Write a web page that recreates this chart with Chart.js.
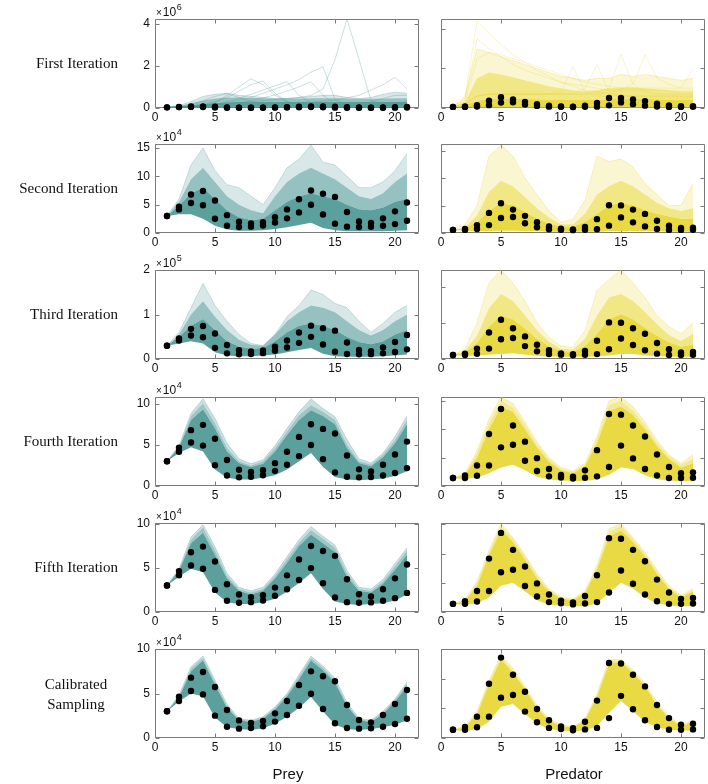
<!DOCTYPE html>
<html>
<head>
<meta charset="utf-8">
<script src="https://cdn.jsdelivr.net/npm/chart.js@4.4.1/dist/chart.umd.min.js"></script>
<style>
body { margin: 0; background: #fff; }
#fig { position: relative; width: 708px; height: 784px; overflow: hidden; background: #fff; }
#fig canvas { position: absolute; }
.rowlab { position: absolute; left: 0; width: 118px; text-align: right; font: 15px "Liberation Serif", "DejaVu Serif", serif; color: #111; line-height: 20px; }
.xlab { position: absolute; top: 765px; font: 15px "Liberation Sans", Arial, sans-serif; color: #111; transform: translateX(-50%); }
</style>
</head>
<body>
<div id="fig"></div>
<script>
// ---- data ----
var rowNames = ["First Iteration", "Second Iteration", "Third Iteration", "Fourth Iteration", "Fifth Iteration", "Calibrated<br>Sampling"];
var days = [1,2,3,4,5,6,7,8,9,10,11,12,13,14,15,16,17,18,19,20,21];
var xTicks = [0,5,10,15,20];

// observed points (prey in 1e4, predator in 1e3)
var preyObsHigh = [3.0,4.64,6.78,7.42,5.73,3.15,1.98,1.69,1.91,2.77,4.16,5.96,7.49,6.93,6.37,3.71,2.02,1.76,2.58,3.82,5.39];
var preyObsLow  = [3.0,4.16,5.28,4.90,2.51,1.27,1.05,1.12,1.31,1.84,2.58,3.63,4.98,3.26,1.65,1.12,1.05,1.09,1.27,1.57,2.17];
var predObsHigh = [0.56,0.74,1.44,3.66,5.42,4.26,3.12,1.96,1.20,0.78,0.66,1.10,2.52,5.06,5.02,4.26,3.48,2.22,1.34,0.90,0.96];
var predObsLow  = [0.56,0.56,0.72,1.44,2.72,2.90,1.78,1.06,0.68,0.60,0.52,0.58,0.68,1.34,2.84,1.94,1.20,0.74,0.56,0.56,0.58];

// axis ranges per row
var preyYMax = [422, 15.7, 20, 10.8, 10.1, 10];
var preyYTicks = [[0,200,400],[0,5,10,15],[0,10,20],[0,5,10],[0,5,10],[0,5,10]];
var preyExp = [6,4,5,4,4,4];
var predYMax = [45, 16.2, 12.3, 6.26, 6.1, 6.0];
var predYTicks = [[0,20,40],[0,5,10,15],[0,5,10],[0,2,4,6],[0,2,4,6],[0,2,4,6]];

// simulated trajectory envelopes, prey (1e4)
var preyLow = [
  [3,3,3,3,2,1.5,1,1,1,1,1,1,1,1,1,0.8,0.8,0.8,0.8,0.8,0.8],
  [3,3.3,3.3,2.5,1.3,0.6,0.4,0.4,0.5,0.7,1.0,1.4,1.8,0.9,0.5,0.3,0.3,0.3,0.3,0.4,0.5],
  [3,3.5,4,3.5,1.5,0.8,0.6,0.6,0.8,1.0,1.5,2.0,2.5,1.2,0.6,0.5,0.5,0.5,0.6,0.8,1.0],
  [3,4.0,4.7,4.2,2.0,1.0,0.8,0.8,1.0,1.3,2.0,3.0,4.0,2.3,1.1,0.8,0.7,0.8,0.9,1.2,1.8],
  [3,4.0,4.9,4.5,2.2,1.1,0.9,0.9,1.1,1.5,2.3,3.3,4.4,2.6,1.2,0.9,0.8,0.9,1.0,1.3,2.0],
  [3,4.1,5.0,4.7,2.3,1.2,1.0,0.9,1.1,1.6,2.4,3.4,4.6,3.0,1.5,1.0,0.9,1.0,1.2,1.5,2.0]
];
var preyCore = [
  [3,8,14,20,24,27,28,28,28,28,28,28,28,28,28,28,28,28,28,28,28],
  [3,4.8,7,8,6,4,2.8,2.3,2.5,4,5.5,6.5,7,6.5,6,5,4.2,4,4.5,5.5,6],
  [3,5,7.5,9,6.5,4,2.8,2.3,2.5,4,6,7.5,8,7.5,6.5,5,3.8,3.3,4,5.5,6.5],
  [3,4.7,8.0,9.3,7.0,4.2,2.8,2.3,2.7,4.2,6.2,8.0,9.2,8.5,7.5,4.6,2.8,2.4,3.5,5.2,7.5],
  [3,4.7,7.8,9.0,6.5,3.8,2.4,2.0,2.4,3.8,5.6,7.5,8.8,7.8,6.8,4.0,2.4,2.2,3.2,4.8,6.5],
  [3,4.6,7.5,8.7,6.0,3.4,2.0,1.8,2.2,3.2,4.7,6.6,8.7,7.6,6.2,3.6,2.0,1.8,2.7,4.1,5.8]
];
var preyMid = [
  [3,10,22,36,45,50,50,48,46,45,45,45,46,46,46,45,44,44,45,46,46],
  [3,5.5,9.5,11.5,9,6.5,5,4,3.5,6.5,9,10.5,11.5,10.5,9.5,8,6.5,6,7,9,10.5],
  [3,5.5,10,13,9.5,6.5,4.3,3.2,3,5.5,8.5,10.5,12,11.5,10.5,8.5,6.5,5.3,6.5,8.5,10],
  [3,4.8,8.5,10.0,7.6,4.6,3.0,2.5,3.0,4.6,6.6,8.6,9.8,9.0,8.0,5.0,3.0,2.6,3.8,5.6,8.0],
  [3,4.8,8.2,9.6,7.0,4.1,2.6,2.2,2.6,4.1,6.0,7.9,9.3,8.3,7.3,4.4,2.6,2.4,3.5,5.2,7.0],
  [3,4.7,7.8,9.0,6.3,3.6,2.1,1.9,2.3,3.4,4.9,6.9,9.0,7.9,6.5,3.8,2.1,1.9,2.9,4.3,6.1]
];
var preyTop = [
  [3,12,30,55,65,70,60,55,50,45,45,50,55,60,60,50,45,50,65,75,70],
  [3,6,12,15,11,8.5,8,6.5,5,8,11.5,13,15.5,12.5,12,10,8,8,9,11,14],
  [3,6,11.5,17,12,8.5,5.5,3.5,3,5.5,9.5,12,15.5,14.5,12.5,11.5,8.5,6,8,10.5,12],
  [3,4.9,8.8,10.6,8.2,5.2,3.3,2.7,3.2,4.9,7.0,9.0,10.6,9.4,8.4,5.6,3.3,2.8,4.0,6.0,8.5],
  [3,4.9,8.5,9.9,7.4,4.4,2.8,2.4,2.8,4.3,6.3,8.2,9.7,8.6,7.6,4.7,2.8,2.6,3.7,5.5,7.3],
  [3,4.8,8.0,9.2,6.5,3.8,2.2,2.0,2.4,3.5,5.0,7.1,9.2,8.1,6.7,4.0,2.2,2.0,3.0,4.4,6.3]
];

// simulated trajectory envelopes, predator (1e3)
var predLow = [
  [0.56,0.4,0.3,0.3,0.3,0.3,0.3,0.3,0.3,0.3,0.3,0.3,0.3,0.3,0.3,0.3,0.3,0.3,0.3,0.3,0.3],
  [0.56,0.4,0.35,0.35,0.4,0.4,0.35,0.3,0.25,0.25,0.25,0.25,0.25,0.3,0.35,0.35,0.3,0.3,0.25,0.25,0.25],
  [0.56,0.45,0.5,0.6,0.7,0.8,0.6,0.45,0.35,0.3,0.3,0.3,0.35,0.5,0.7,0.7,0.5,0.4,0.3,0.3,0.3],
  [0.56,0.5,0.6,0.9,1.3,1.5,1.1,0.65,0.45,0.38,0.35,0.36,0.45,0.8,1.3,1.2,0.75,0.48,0.38,0.34,0.33],
  [0.56,0.5,0.6,1.0,1.8,2.0,1.4,0.8,0.5,0.42,0.4,0.4,0.6,1.3,2.0,1.6,1.0,0.6,0.45,0.4,0.4],
  [0.56,0.45,0.6,1.1,2.1,2.3,1.6,0.97,0.6,0.5,0.45,0.5,0.8,1.7,2.5,1.8,1.1,0.7,0.55,0.5,0.5]
];
var predCore = [
  [0.56,1.5,3.5,4.5,4.8,4.8,4.6,4.4,4.2,4.0,4.0,4.0,4.2,4.4,4.6,4.6,4.6,4.4,4.2,4.0,4.0],
  [0.56,0.9,2.0,4.0,5.5,5.0,3.8,2.6,1.7,1.2,1.2,2.0,3.5,5.0,5.5,5.0,4.2,3.5,3.0,2.6,2.6],
  [0.56,0.9,2.2,4.5,6.0,5.5,4.2,2.8,1.8,1.1,1.0,1.8,3.5,5.5,6.2,5.5,4.3,3.2,2.3,1.7,2.0],
  [0.56,0.8,2.0,4.0,5.6,5.2,4.0,2.7,1.7,1.1,0.9,1.4,3.0,5.3,5.6,5.0,4.0,2.8,1.9,1.3,1.6],
  [0.56,0.75,1.8,3.9,5.6,4.8,3.6,2.3,1.4,0.95,0.8,1.3,2.9,5.2,5.6,4.8,3.8,2.6,1.6,1.0,1.4],
  [0.56,0.75,1.6,3.6,5.3,4.4,3.3,2.0,1.2,0.8,0.7,1.2,2.8,5.0,5.1,4.4,3.5,2.2,1.35,0.8,1.1]
];
var predMid = [
  [0.56,3,15,18,17,15.5,14,12.5,11,10,9,8.5,9,10,10.5,10.5,10,9.5,9,8.5,8.5],
  [0.56,1.1,3.2,7.5,9.5,8.5,6.5,4.5,2.8,1.6,1.6,3.5,7.0,8.5,9.5,8.5,7.0,5.5,4.5,4.0,4.5],
  [0.56,1.1,3.2,7.0,9.0,8.0,6.0,4.0,2.4,1.4,1.3,2.8,6.0,8.5,9.0,8.0,6.5,4.8,3.3,2.5,3.5],
  [0.56,0.85,2.3,4.4,6.0,5.5,4.3,2.9,1.9,1.2,1.0,1.5,3.3,5.7,6.0,5.3,4.3,3.0,2.1,1.5,1.9],
  [0.56,0.8,2.0,4.1,5.9,5.0,3.8,2.5,1.5,1.0,0.85,1.4,3.1,5.5,5.9,5.0,4.0,2.8,1.7,1.1,1.5],
  [0.56,0.78,1.7,3.8,5.5,4.55,3.4,2.1,1.25,0.85,0.72,1.25,2.9,5.2,5.2,4.5,3.6,2.3,1.4,0.85,1.15]
];
var predTop = [
  [0.56,6,30,28,26,24,22,20,18,16,15,14,15,15,17,16,17,16,15,14,15],
  [0.56,1.5,5,14,16,14,10,7,4,2,2.5,6,14,13,13.5,12,9,7,5,5,9],
  [0.56,1.4,5.0,10.5,12.3,10.5,8.0,5.0,3.0,1.8,1.6,4.0,9.5,11.0,12.3,10.5,8.5,6.0,4.5,3.5,5.0],
  [0.56,0.9,2.5,4.7,6.26,5.8,4.5,3.1,2.0,1.3,1.05,1.6,3.5,6.0,6.26,5.6,4.5,3.2,2.2,1.6,2.2],
  [0.56,0.85,2.1,4.2,6.05,5.1,3.9,2.6,1.6,1.05,0.9,1.45,3.2,5.7,6.05,5.1,4.1,2.9,1.8,1.15,1.6],
  [0.56,0.8,1.8,3.9,5.6,4.7,3.5,2.2,1.3,0.9,0.75,1.3,3.0,5.3,5.3,4.6,3.7,2.4,1.45,0.9,1.2]
];

// a few stray trajectories visible in the first iteration
var preyTrails = [
  [3,4,6,10,15,20,25,30,35,40,45,50,60,90,230,422,230,35,20,20,25],
  [3,5,8,12,18,25,35,50,70,90,110,135,170,195,40,15,8,6,8,12,18],
  [3,5,8,12,25,60,100,139,110,60,30,20,15,12,10,10,10,12,15,20,25],
  [3,5,8,15,30,50,80,110,128,70,30,15,10,8,8,10,12,15,20,25,30],
  [3,4,6,10,18,30,45,65,85,105,125,60,25,12,8,8,8,10,12,15,20],
  [3,4,6,8,12,18,25,35,48,62,80,100,125,60,20,10,8,8,10,12,15],
  [3,4,6,8,10,12,14,16,18,20,22,25,28,32,38,48,60,85,110,145,90],
  [3,6,15,35,55,68,50,30,20,15,12,10,10,10,12,15,20,30,45,60,60]
];
var predTrails = [
  [0.56,5,44,38,32,27,23,19,16,13,11,9,8,7,6,6,5,5,5,5,5],
  [0.56,4,35,30,26,22,19,17,15,13,12,11,10,9,9,9,9,9,9,9,9],
  [0.56,3,25,28,27,25,23,21,19,17,15,13,12,11,10,10,10,10,10,10,10],
  [0.56,2,6,7,7,7,7,7,7,8,21,8,6,6,6,6,6,6,6,6,6],
  [0.56,2,6,7,7,7,7,7,7,7,7,10,22,8,6,6,6,6,6,6,6],
  [0.56,2,6,7,7,7,7,7,7,7,7,7,8,10,27,12,8,7,7,7,7],
  [0.56,2,6,7,7,7,7,7,7,7,7,7,7,8,9,12,27,15,12,10,20]
];

var rowTops = [19, 144, 270, 397, 523, 649];
var teal = [78, 152, 150];
var yellow = [231, 215, 52];

Chart.defaults.font.family = '"Liberation Sans", Arial, sans-serif';
Chart.defaults.font.size = 12;
Chart.defaults.color = '#111';
Chart.defaults.animation = false;

function rgba(c, a) { return 'rgba(' + c[0] + ',' + c[1] + ',' + c[2] + ',' + a + ')'; }
function pts(vals) { return vals.map(function (v, i) { return { x: days[i], y: v }; }); }

// box, inward ticks and the x10^n label
var framePlugin = {
    id: 'frame',
    beforeDatasetsDraw: function (chart) {
        var ctx = chart.ctx, a = chart.chartArea, sx = chart.scales.x, sy = chart.scales.y;
        var L = Math.round(a.left) + 0.5, T = Math.round(a.top) + 0.5, R = Math.round(a.right) - 0.5, B = Math.round(a.bottom) - 0.5;
        ctx.save();
        ctx.strokeStyle = '#7a7a7a';
        ctx.lineWidth = 1;
        ctx.beginPath();
        sx.ticks.forEach(function (t) {
            var p = Math.round(sx.getPixelForValue(t.value)) + 0.5;
            ctx.moveTo(p, B); ctx.lineTo(p, B - 4);
            ctx.moveTo(p, T); ctx.lineTo(p, T + 4);
        });
        sy.ticks.forEach(function (t) {
            var p = Math.round(sy.getPixelForValue(t.value)) + 0.5;
            ctx.moveTo(L, p); ctx.lineTo(L + 4, p);
            ctx.moveTo(R, p); ctx.lineTo(R - 4, p);
        });
        ctx.rect(L, T, R - L, B - T);
        ctx.stroke();
        var ex = chart.options.plugins.frame.exp;
        if (ex) {
            ctx.fillStyle = '#111';
            ctx.textBaseline = 'alphabetic';
            var x = a.left + 1, y = a.top - 3;
            ctx.font = '10px "Liberation Sans", Arial, sans-serif';
            ctx.fillText('\u00d7', x, y);
            x += ctx.measureText('\u00d7').width + 1;
            ctx.font = '12px "Liberation Sans", Arial, sans-serif';
            ctx.fillText('10', x, y);
            x += ctx.measureText('10').width + 0.5;
            ctx.font = '9px "Liberation Sans", Arial, sans-serif';
            ctx.fillText(String(ex), x, y - 6);
        }
        ctx.restore();
    }
};

function buildPanel(row, side) {
    var isPrey = side === 0;
    var left = isPrey ? 155 : 441;
    var top = rowTops[row];
    var cv = document.createElement('canvas');
    cv.width = 308; cv.height = 127;
    cv.style.left = (left - 40) + 'px';
    cv.style.top = (top - 20) + 'px';
    document.getElementById('fig').appendChild(cv);

    var col = isPrey ? teal : yellow;
    var lo = (isPrey ? preyLow : predLow)[row];
    var core = (isPrey ? preyCore : predCore)[row];
    var mid = (isPrey ? preyMid : predMid)[row];
    var hi = (isPrey ? preyTop : predTop)[row];
    var alphas = row < 3 ? [0.92, 0.6, 0.22] : [0.92, 0.55, 0.3];

    var datasets = [
        { data: pts(lo), borderWidth: 0, pointRadius: 0, fill: false, order: 5 },
        { data: pts(core), borderWidth: 0, pointRadius: 0, backgroundColor: rgba(col, alphas[0]), fill: '-1', order: 5 },
        { data: pts(mid), borderWidth: 0, pointRadius: 0, backgroundColor: rgba(col, alphas[1]), fill: '-1', order: 5 },
        { data: pts(hi), borderWidth: 0.8, borderColor: rgba(col, 0.35), pointRadius: 0, backgroundColor: rgba(col, alphas[2]), fill: '-1', order: 5 }
    ];
    if (row === 0) {
        (isPrey ? preyTrails : predTrails).forEach(function (t) {
            datasets.push({ data: pts(t), borderWidth: 1, borderColor: rgba(col, isPrey ? 0.3 : 0.25), pointRadius: 0, fill: false, order: 2 });
        });
    }
    [isPrey ? preyObsHigh : predObsHigh, isPrey ? preyObsLow : predObsLow].forEach(function (o) {
        datasets.push({ data: pts(o), showLine: false, pointRadius: 3.2, pointBackgroundColor: '#000', pointBorderWidth: 0, clip: 6, order: 0 });
    });

    var yTicks = isPrey ? preyYTicks[row] : predYTicks[row];
    var div = Math.pow(10, preyExp[row] - 4);

    new Chart(cv, {
        type: 'line',
        data: { datasets: datasets },
        options: {
            responsive: false,
            devicePixelRatio: 1,
            layout: { padding: { top: 20, right: 2, left: 0, bottom: 0 } },
            elements: { line: { tension: 0 } },
            plugins: { legend: { display: false }, tooltip: { enabled: false }, frame: { exp: isPrey ? preyExp[row] : 0 } },
            scales: {
                x: {
                    type: 'linear', min: 0, max: 22,
                    grid: { display: false, drawTicks: false }, border: { display: false },
                    ticks: { padding: 2, maxRotation: 0, font: { size: 12 } },
                    afterBuildTicks: function (s) { s.ticks = xTicks.map(function (v) { return { value: v }; }); },
                    afterFit: function (s) { s.height = 18; }
                },
                y: {
                    type: 'linear', min: 0, max: isPrey ? preyYMax[row] : predYMax[row],
                    grid: { display: false, drawTicks: false }, border: { display: false },
                    ticks: {
                        display: isPrey, padding: 5, font: { size: 12 },
                        callback: function (v) { return String(Math.round(v / div * 100) / 100); }
                    },
                    afterBuildTicks: function (s) { s.ticks = yTicks.map(function (v) { return { value: v }; }); },
                    afterFit: function (s) { s.width = 40; }
                }
            }
        },
        plugins: [framePlugin]
    });
}

for (var r = 0; r < 6; r++) {
    buildPanel(r, 0);
    buildPanel(r, 1);
    var lab = document.createElement('div');
    lab.className = 'rowlab';
    lab.innerHTML = rowNames[r];
    if (r === 5) {
        lab.style.width = '92px'; lab.style.left = '30px'; lab.style.textAlign = 'center';
        lab.style.top = (rowTops[r] + 44 - 19) + 'px';
    } else {
        lab.style.top = (rowTops[r] + 44 - 10) + 'px';
    }
    document.getElementById('fig').appendChild(lab);
}

[['Prey', 288], ['Predator', 574]].forEach(function (p) {
    var d = document.createElement('div');
    d.className = 'xlab';
    d.style.left = p[1] + 'px';
    d.textContent = p[0];
    document.getElementById('fig').appendChild(d);
});
</script>
</body>
</html>
